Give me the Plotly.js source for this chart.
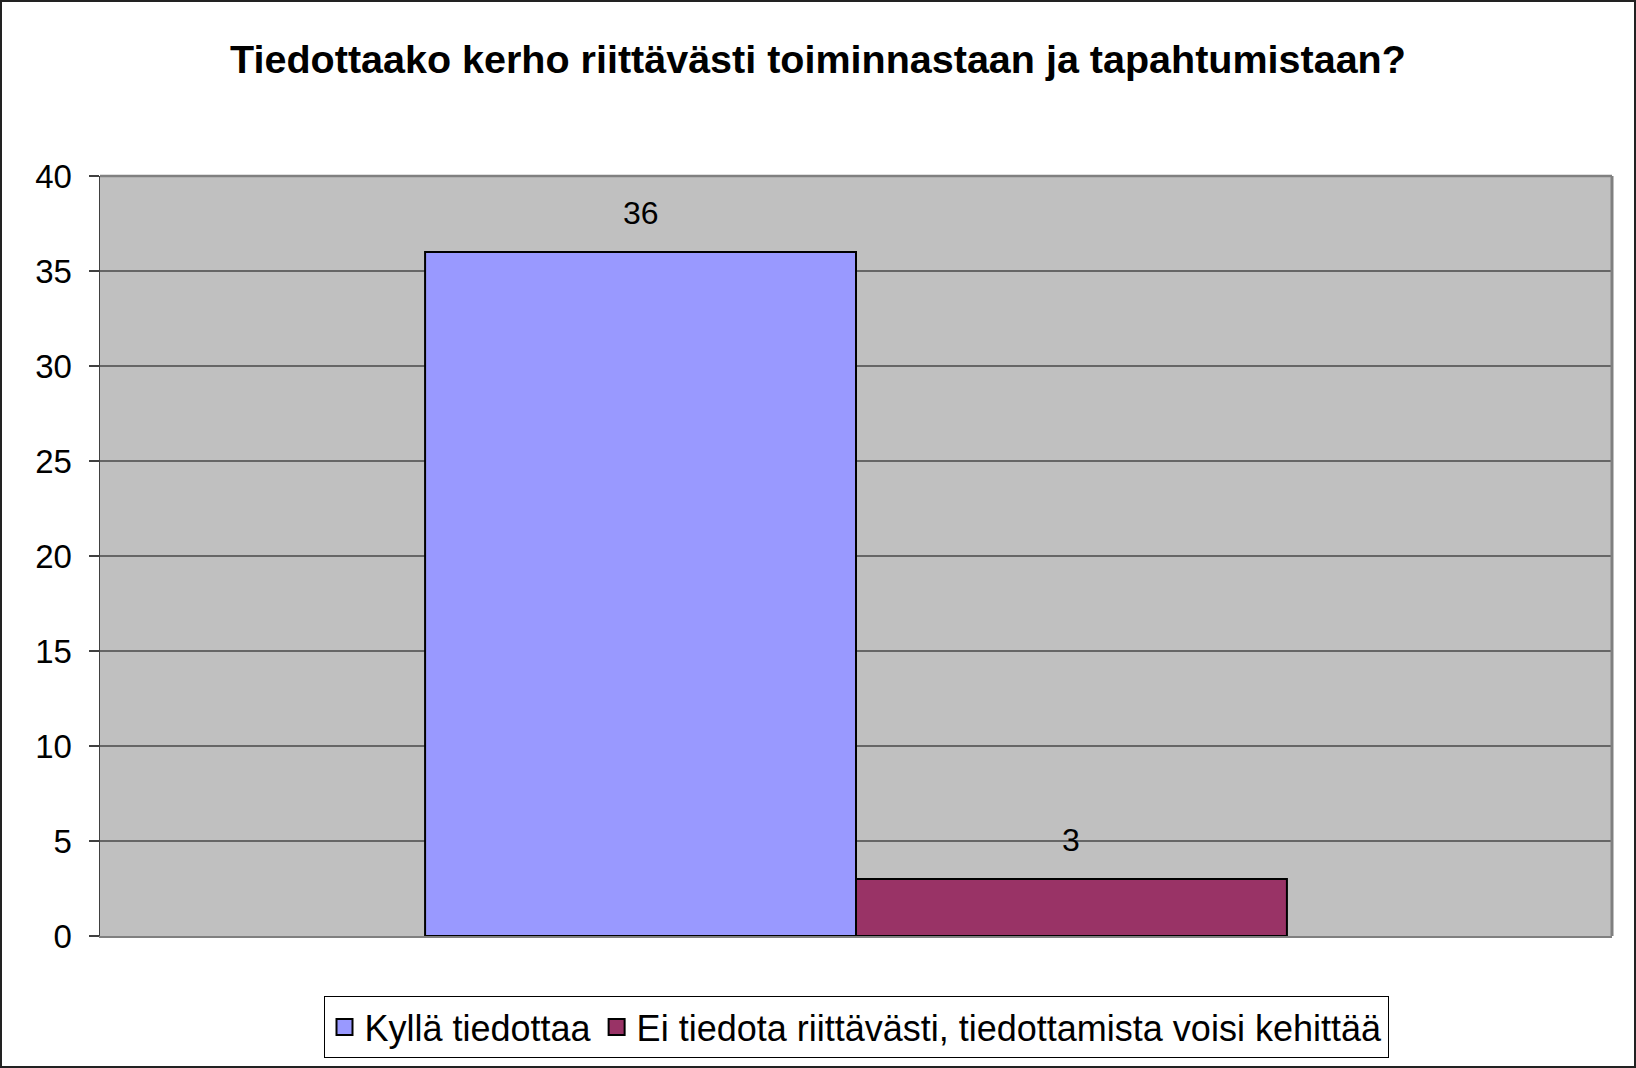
<!DOCTYPE html>
<html>
<head>
<meta charset="utf-8">
<script src="https://cdn.plot.ly/plotly-3.0.1.min.js"></script>
<style>
  html, body { margin: 0; padding: 0; background: #ffffff; }
  #chart { position: absolute; left: 0; top: 0; width: 1632px; height: 1064px; border: 2px solid #222222; }
</style>
</head>
<body>
<div id="chart"></div>
<script>
// Data
const chartTitle = "Tiedottaako kerho riittävästi toiminnastaan ja tapahtumistaan?";
const categories = [""];
const seriesNames = ["Kyllä tiedottaa", "Ei tiedota riittävästi, tiedottamista voisi kehittää"];
const seriesValues = [[36], [3]];
const seriesColors = ["#9999FF", "#993366"];
const yTickValues = [0, 5, 10, 15, 20, 25, 30, 35, 40];

const FONT = '"Liberation Sans", Arial, Helvetica, sans-serif';
const bargap = 0.43;

const barTraces = seriesNames.map((name, i) => ({
  type: 'bar',
  name: name,
  legendgroup: 'g' + i,
  showlegend: false,
  x: categories,
  y: seriesValues[i],
  marker: { color: seriesColors[i], line: { color: '#000000', width: 2 } },
  hoverinfo: 'skip'
}));

// legend-only entries (larger square swatches like the original)
const legendTraces = seriesNames.map((name, i) => ({
  type: 'scatter',
  mode: 'markers',
  name: name,
  legendgroup: 'g' + i,
  x: [null],
  y: [null],
  marker: { symbol: 'square', size: 16, color: seriesColors[i], line: { color: '#000000', width: 2 } },
  hoverinfo: 'skip'
}));

// data labels above each bar
const barW = (1 - bargap) / seriesNames.length;
const annotations = [];
seriesValues.forEach((vals, i) => {
  vals.forEach((v, j) => {
    const off = -(1 - bargap) / 2 + barW * (i + 0.5);
    annotations.push({
      xref: 'x', yref: 'y', x: j + off, y: v,
      text: String(v), showarrow: false, yanchor: 'bottom', yshift: 19,
      font: { family: FONT, size: 32, color: '#000000' }
    });
  });
});

const layout = {
  width: 1632, height: 1064,
  paper_bgcolor: '#ffffff',
  plot_bgcolor: '#C0C0C0',
  margin: { l: 98, r: 22, t: 174, b: 130, pad: 0 },
  font: { family: FONT, color: '#000000' },
  title: {
    text: '<b>' + chartTitle + '</b>',
    font: { family: FONT, size: 39.5, color: '#000000' },
    x: 0.5, xref: 'container', xanchor: 'center',
    y: 1 - 57 / 1064, yref: 'container', yanchor: 'middle'
  },
  barmode: 'group',
  bargap: bargap,
  bargroupgap: 0,
  showlegend: true,
  legend: {
    orientation: 'h',
    x: 0.5, xanchor: 'center', xref: 'paper',
    y: 1 - 994 / 1064, yanchor: 'top', yref: 'container',
    bgcolor: '#ffffff',
    bordercolor: '#000000', borderwidth: 1,
    font: { family: FONT, size: 36, color: '#000000' },
    itemsizing: 'trace',
    traceorder: 'normal'
  },
  xaxis: {
    type: 'category',
    range: [-0.5, 0.5],
    showticklabels: false,
    ticks: '',
    showgrid: false,
    zeroline: false,
    showline: true, linecolor: '#808080', linewidth: 2,
    fixedrange: true
  },
  yaxis: {
    range: [0, 40],
    tickvals: yTickValues,
    ticktext: yTickValues.map(String),
    ticks: 'outside', ticklen: 10, tickcolor: '#404040', tickwidth: 1.5,
    ticklabelstandoff: 10,
    tickfont: { family: FONT, size: 33, color: '#000000' },
    showgrid: true, gridcolor: '#666666', gridwidth: 1.3,
    zeroline: false,
    showline: true, linecolor: '#404040', linewidth: 1.5,
    fixedrange: true
  },
  shapes: [
    { type: 'line', xref: 'paper', yref: 'paper', x0: 0, x1: 1, y0: 1, y1: 1,
      line: { color: '#808080', width: 2.5 }, layer: 'above' },
    { type: 'line', xref: 'paper', yref: 'paper', x0: 1, x1: 1, y0: 0, y1: 1,
      line: { color: '#808080', width: 3 }, layer: 'above' }
  ],
  annotations: annotations
};

Plotly.newPlot('chart', barTraces.concat(legendTraces), layout, { displayModeBar: false, staticPlot: true });
</script>
</body>
</html>
